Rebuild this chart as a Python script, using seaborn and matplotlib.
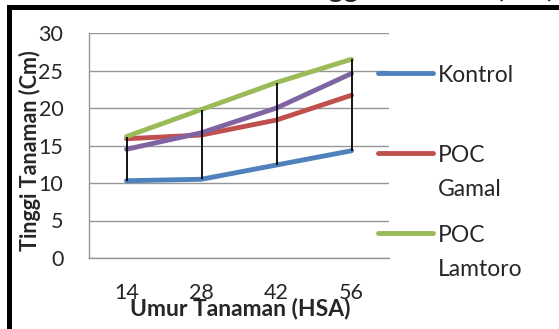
import pandas as pd
import seaborn as sns
import numpy as np
from matplotlib import pyplot as plt
from matplotlib.lines import Line2D
from matplotlib.patches import Rectangle

# data
umur = ["14", "28", "42", "56"]
kontrol = [10.3, 10.5, 12.4, 14.3]
poc_gamal = [15.9, 16.4, 18.4, 21.7]
poc_lamtoro = [16.2, 19.8, 23.4, 26.5]
poc_campuran = [14.5, 16.7, 20.0, 24.6]

series_names = ["Kontrol", "POC Gamal", "POC Lamtoro", "POC Campuran"]
legend_labels = ["Kontrol", "POC\nGamal", "POC\nLamtoro"]
colors = ["#4F81BD", "#C0504D", "#9BBB59", "#8064A2"]
yticks = [0, 5, 10, 15, 20, 25, 30]

df = pd.DataFrame({
    "umur": umur * 4,
    "tinggi": kontrol + poc_gamal + poc_lamtoro + poc_campuran,
    "perlakuan": np.repeat(series_names, len(umur)),
})

sns.set_style("white")
plt.rcParams['font.family'] = ['Lato', 'DejaVu Sans']
grid_col = "#969696"
fs = 15.5

fig = plt.figure(figsize=(5.59, 3.29), dpi=100)
ax = fig.add_axes([89/559, 71/329, 300/559, 225/329])

sns.lineplot(data=df, x="umur", y="tinggi", hue="perlakuan", palette=colors,
             linewidth=3.5, solid_capstyle="round", legend=False, ax=ax, sort=False)

# high-low lines
hl = df.groupby("umur")["tinggi"].agg(["min", "max"]).reindex(umur)
ax.vlines(umur, hl["min"], hl["max"], color="black", linewidth=1.3, zorder=5)

ax.set_xlim(-0.5, 3.5)
ax.set_ylim(0, 30)
ax.set_yticks(yticks)
ax.yaxis.grid(True, color=grid_col, linewidth=1.0)
ax.set_axisbelow(True)
for s in ["top", "right"]:
    ax.spines[s].set_visible(False)
for s in ["left", "bottom"]:
    ax.spines[s].set_color(grid_col)
    ax.spines[s].set_linewidth(1.0)
ax.tick_params(axis="y", length=6.5, width=1.0, color=grid_col, pad=12, labelsize=fs)
ax.tick_params(axis="x", length=0, pad=18, labelsize=fs)

ax.set_xlabel("Umur Tanaman (HSA)", fontsize=16.5, fontweight="bold")
ax.xaxis.set_label_coords(0.503, -0.253)
ax.xaxis.label.set_va("baseline")
ax.set_ylabel("Tinggi Tanaman (Cm)", fontsize=15.5, fontweight="bold")
ax.yaxis.set_label_coords(-0.197, 0.478)
ax.yaxis.label.set_va("center")

# legend (first three series only)
hy = [73, 153, 233]
for lab, col, y in zip(legend_labels, colors, hy):
    fig.add_artist(Line2D([378/559, 433/559], [1 - y/329, 1 - y/329], color=col,
                          linewidth=3.5, solid_capstyle="round"))
    for k, part in enumerate(lab.split("\n")):
        fig.text(438/559, 1 - (y + 9 + 33.5*k)/329, part, fontsize=16.5, va="baseline", ha="left")

# caption cut off at the top of the image
fig.text(555/559, 1 + 3/329, "Tinggi Tanaman (Cm)", fontsize=20.5, fontweight="bold",
         ha="right", va="baseline")

# frame
fig.add_artist(Rectangle((8.5/559, -0.1), 2, 1.1 - 7.5/329, transform=fig.transFigure,
                         fill=False, edgecolor="black", linewidth=3.6))

plt.savefig("out.png", dpi=100)
